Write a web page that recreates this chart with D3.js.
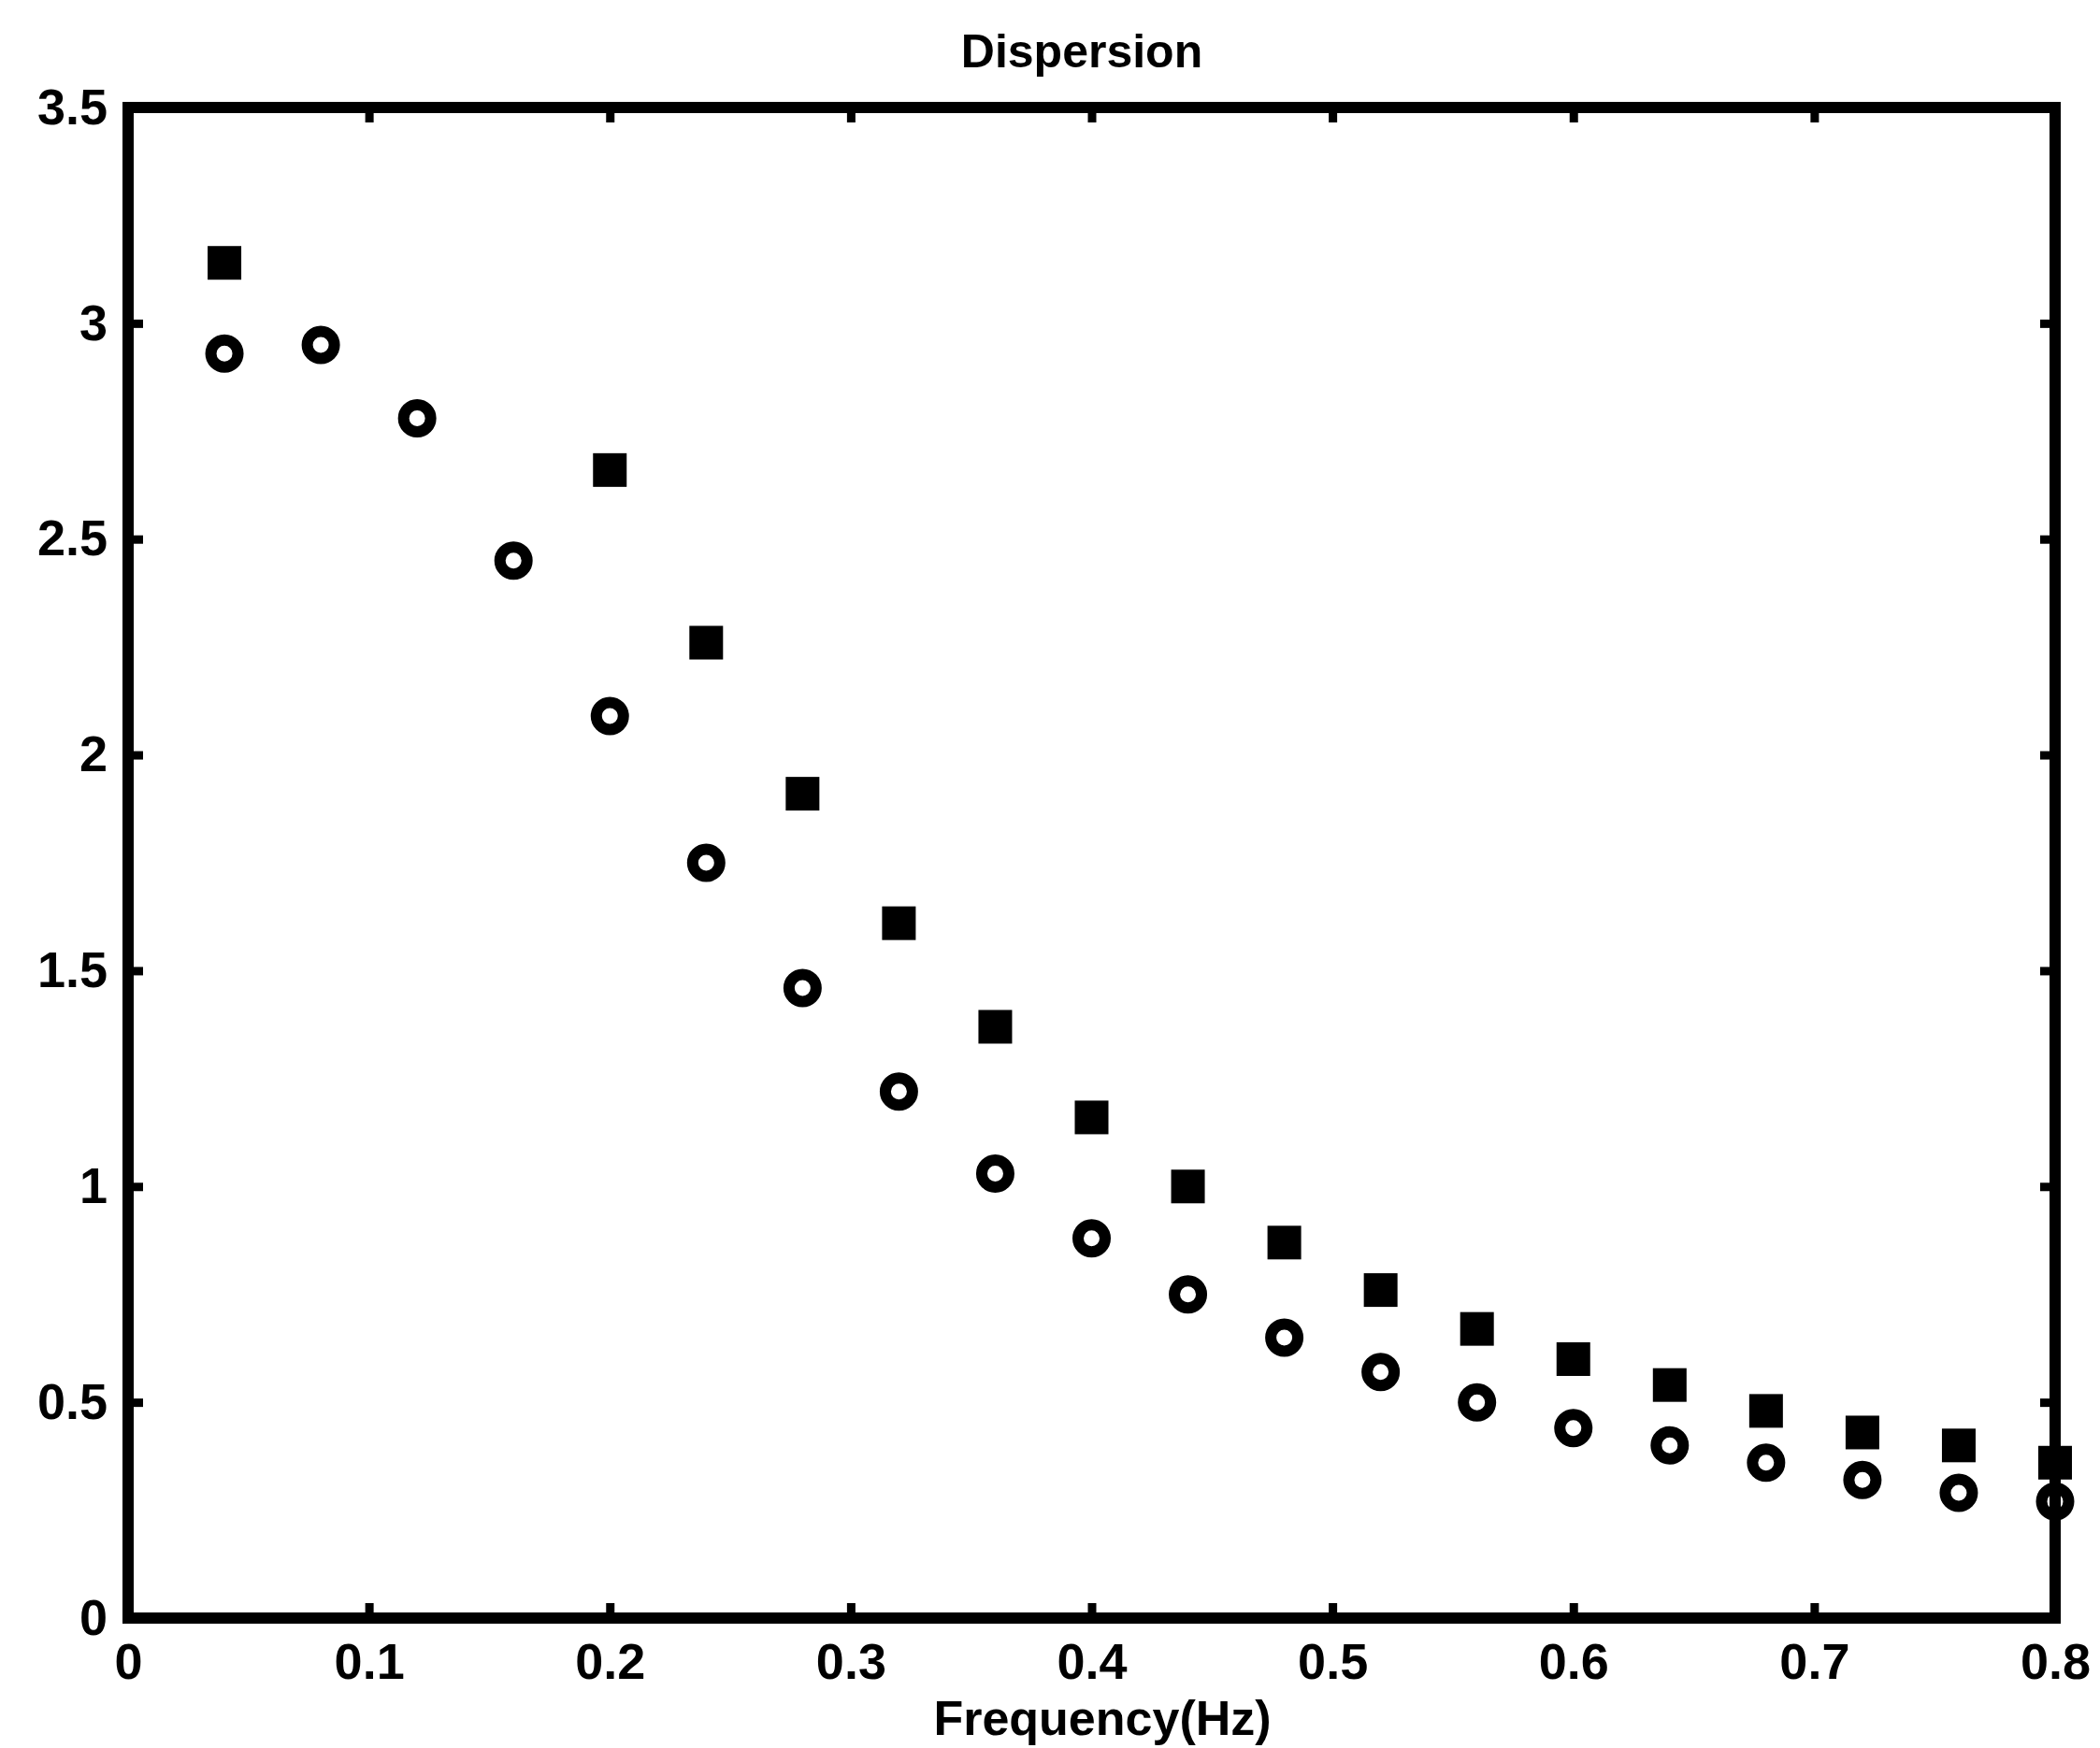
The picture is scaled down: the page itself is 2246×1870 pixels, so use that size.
<!DOCTYPE html>
<html>
<head>
<meta charset="utf-8">
<script src="https://cdn.jsdelivr.net/npm/d3@7"></script>
<style>
  body { margin: 0; background: #fff; }
  text { font-family: "Liberation Sans", Arial, sans-serif; font-weight: bold; fill: #000; }
</style>
</head>
<body>
<div id="chart"></div>
<script>
// values
const freqCircle = [0.04, 0.08, 0.12, 0.16, 0.20, 0.24, 0.28, 0.32, 0.36, 0.40,
                    0.44, 0.48, 0.52, 0.56, 0.60, 0.64, 0.68, 0.72, 0.76, 0.80];
const dispCircle = [2.93, 2.95, 2.78, 2.45, 2.09, 1.75, 1.46, 1.22, 1.03, 0.88,
                    0.75, 0.65, 0.57, 0.50, 0.44, 0.40, 0.36, 0.32, 0.29, 0.27];

const freqStar = [0.04, 0.20, 0.24, 0.28, 0.32, 0.36, 0.40, 0.44, 0.48,
                  0.52, 0.56, 0.60, 0.64, 0.68, 0.72, 0.76, 0.80];
const dispStar = [3.14, 2.66, 2.26, 1.91, 1.61, 1.37, 1.16, 1.00, 0.87,
                  0.76, 0.67, 0.60, 0.54, 0.48, 0.43, 0.40, 0.36];

const xTicks = [0, 0.1, 0.2, 0.3, 0.4, 0.5, 0.6, 0.7, 0.8];
const yTicks = [0, 0.5, 1, 1.5, 2, 2.5, 3, 3.5];

const titleText = 'Dispersion';
const xLabelText = 'Frequency(Hz)';

const width = 2246;
const height = 1870;
const margin = {top: 115, right: 48, bottom: 139, left: 137};
const innerW = width - margin.left - margin.right;
const innerH = height - margin.top - margin.bottom;

const svg = d3.select('#chart')
    .append('svg')
    .attr('width', width)
    .attr('height', height);

const g = svg.append('g')
    .attr('transform', 'translate(' + margin.left + ',' + margin.top + ')');

const x = d3.scaleLinear().domain([0, 0.8]).range([0, innerW]);
const y = d3.scaleLinear().domain([0, 3.5]).range([innerH, 0]);

function fmt(d) {
  return d3.format('')(+d.toFixed(1));
}

function styleAxis(sel, fontSize) {
  sel.select('.domain').remove();
  sel.selectAll('.tick line')
      .attr('stroke', '#000')
      .attr('stroke-width', 9);
  sel.selectAll('.tick text')
      .style('font-size', fontSize + 'px');
}

// inward ticks on all four sides, like the old matlab box
g.append('g')
    .attr('transform', 'translate(0,' + innerH + ')')
    .call(d3.axisBottom(x).tickValues(xTicks).tickSize(-16).tickPadding(27).tickFormat(fmt))
    .call(sel => styleAxis(sel, 54));

g.append('g')
    .call(d3.axisTop(x).tickValues(xTicks).tickSize(-16).tickFormat(''))
    .call(sel => styleAxis(sel, 54));

g.append('g')
    .call(d3.axisLeft(y).tickValues(yTicks).tickSize(-16).tickPadding(22).tickFormat(fmt))
    .call(sel => styleAxis(sel, 54));

g.append('g')
    .attr('transform', 'translate(' + innerW + ',0)')
    .call(d3.axisRight(y).tickValues(yTicks).tickSize(-16).tickFormat(''))
    .call(sel => styleAxis(sel, 54));

g.append('rect')
    .attr('x', 0)
    .attr('y', 0)
    .attr('width', innerW)
    .attr('height', innerH)
    .attr('fill', 'none')
    .attr('stroke', '#000')
    .attr('stroke-width', 12);

// square-ish "*" markers
const sq = 36;
g.append('g')
    .selectAll('rect')
    .data(freqStar)
    .join('rect')
    .attr('x', d => x(d) - sq / 2)
    .attr('y', (d, i) => y(dispStar[i]) - sq / 2)
    .attr('width', sq)
    .attr('height', sq)
    .attr('fill', '#000');

// open circles
g.append('g')
    .selectAll('circle')
    .data(freqCircle)
    .join('circle')
    .attr('cx', d => x(d))
    .attr('cy', (d, i) => y(dispCircle[i]))
    .attr('r', 14.5)
    .attr('fill', 'none')
    .attr('stroke', '#000')
    .attr('stroke-width', 12);

svg.append('text')
    .attr('x', 1157)
    .attr('y', 72)
    .attr('text-anchor', 'middle')
    .style('font-size', '50px')
    .text(titleText);

svg.append('text')
    .attr('x', 1179)
    .attr('y', 1856)
    .attr('text-anchor', 'middle')
    .style('font-size', '52px')
    .text(xLabelText);
</script>
</body>
</html>
